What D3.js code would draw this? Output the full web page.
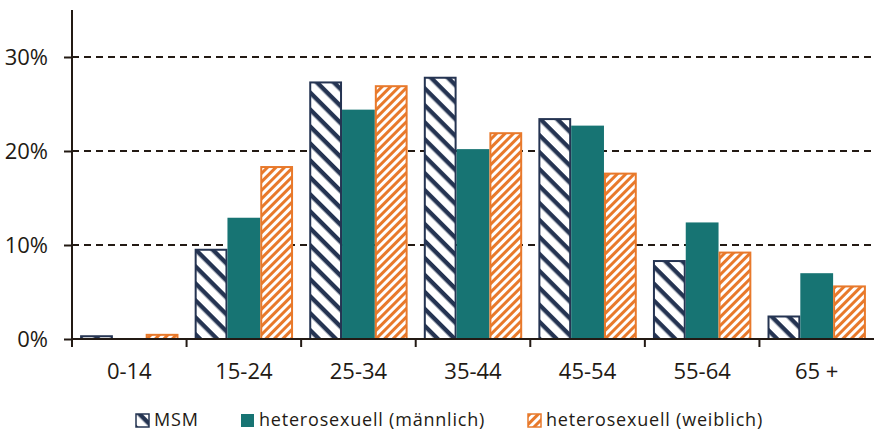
<!DOCTYPE html>
<html>
<head>
<meta charset="utf-8">
<script src="https://cdn.jsdelivr.net/npm/d3@7"></script>
<style>
  html, body { margin: 0; padding: 0; background: #fff; }
  svg { display: block; }
  text { font-family: "Open Sans", sans-serif; fill: #231a14; }
</style>
</head>
<body>
<svg id="chart" width="874" height="433"></svg>
<script>
// Age groups and shares (%) per transmission group
const categories = ["0-14", "15-24", "25-34", "35-44", "45-54", "55-64", "65 +"];
const seriesNames = ["MSM", "heterosexuell (männlich)", "heterosexuell (weiblich)"];
const msm = [0.4, 9.6, 27.4, 27.9, 23.5, 8.4, 2.5];
const heteroMale = [0.0, 12.9, 24.4, 20.2, 22.7, 12.4, 7.0];
const heteroFemale = [0.55, 18.4, 27.0, 22.0, 17.7, 9.3, 5.7];
const yTicks = [0, 10, 20, 30];

const navy = "#253452";
const teal = "#177473";
const orange = "#e8792b";
const ink = "#231a14";

const svg = d3.select("#chart");
const left = 72, right = 874;

const x = d3.scaleBand().domain(categories).range([left, right]);
const y = d3.scaleLinear().domain([0, 35]).range([339, 10]);
const inner = d3.scaleBand().domain(seriesNames).range([0, x.bandwidth()]).paddingOuter(0.5 * 38 / 77);

// Hatch patterns
const defs = svg.append("defs");
const pMsm = defs.append("pattern").attr("id", "pat-msm").attr("patternUnits", "userSpaceOnUse")
  .attr("width", 12).attr("height", 12).attr("patternTransform", "rotate(45)");
pMsm.append("rect").attr("width", 12).attr("height", 12).attr("fill", "#fff");
pMsm.append("rect").attr("width", 12).attr("height", 4.4).attr("fill", navy);

const pFem = defs.append("pattern").attr("id", "pat-fem").attr("patternUnits", "userSpaceOnUse")
  .attr("width", 6).attr("height", 6).attr("patternTransform", "rotate(-45)");
pFem.append("rect").attr("width", 6).attr("height", 6).attr("fill", "#fff");
pFem.append("rect").attr("width", 6).attr("height", 3).attr("fill", orange);

// Dashed gridlines
svg.append("g").selectAll("line").data(yTicks.filter(d => d > 0)).join("line")
  .attr("x1", left).attr("x2", right)
  .attr("y1", d => y(d)).attr("y2", d => y(d))
  .attr("stroke", ink).attr("stroke-width", 2).attr("stroke-dasharray", "7,5");

// Bars
const series = [
  { name: seriesNames[0], values: msm, fill: "url(#pat-msm)", stroke: navy, sw: 2 },
  { name: seriesNames[1], values: heteroMale, fill: teal, stroke: "none", sw: 0 },
  { name: seriesNames[2], values: heteroFemale, fill: "url(#pat-fem)", stroke: orange, sw: 2 }
];
series.forEach(s => {
  svg.append("g").selectAll("rect")
    .data(categories.map((c, i) => ({ c, v: s.values[i] })).filter(d => d.v > 0))
    .join("rect")
    .attr("x", d => x(d.c) + inner(s.name) + s.sw / 2)
    .attr("width", inner.bandwidth() - s.sw)
    .attr("y", d => y(d.v) + s.sw / 2)
    .attr("height", d => Math.max(0, y(0) - y(d.v) - s.sw / 2))
    .attr("fill", s.fill)
    .attr("stroke", s.stroke)
    .attr("stroke-width", s.sw);
});

// Y axis
const yAxis = d3.axisLeft(y).tickValues(yTicks).tickFormat(d => d + "%").tickSize(8).tickPadding(16);
const gy = svg.append("g").attr("transform", `translate(${left},0)`).call(yAxis);
gy.select(".domain").attr("stroke", ink).attr("stroke-width", 2).attr("d", `M0,${y(35)}V${y(0)}`);
gy.selectAll(".tick line").attr("stroke", ink).attr("stroke-width", 2);
gy.selectAll(".tick text").attr("font-size", 22).attr("dy", "0.36em")
  .style("font-family", "'Open Sans', sans-serif").attr("fill", ink);

// X axis
const xAxis = d3.axisBottom(x).tickSize(0);
const gx = svg.append("g").attr("transform", `translate(0,${y(0)})`).call(xAxis);
gx.select(".domain").attr("stroke", ink).attr("stroke-width", 2).attr("d", `M${left},0H${right}`);
gx.selectAll(".tick text").attr("font-size", 22).attr("y", 32).attr("dy", "0.36em")
  .style("font-family", "'Open Sans', sans-serif").attr("fill", ink);
svg.append("g").selectAll("line").data(categories).join("line")
  .attr("x1", d => x(d)).attr("x2", d => x(d))
  .attr("y1", y(0)).attr("y2", y(0) + 8)
  .attr("stroke", ink).attr("stroke-width", 2);

// Legend
const legendItems = [
  { name: seriesNames[0], x: 136, fill: "url(#pat-msm)", stroke: navy },
  { name: seriesNames[1], x: 241, fill: teal, stroke: "none" },
  { name: seriesNames[2], x: 528, fill: "url(#pat-fem)", stroke: orange }
];
const lg = svg.append("g");
legendItems.forEach(it => {
  lg.append("rect").attr("x", it.x).attr("y", 414).attr("width", 13).attr("height", 13)
    .attr("fill", it.fill).attr("stroke", it.stroke).attr("stroke-width", 1.5);
  lg.append("text").attr("x", it.x + 18).attr("y", 420).attr("dy", "0.36em")
    .attr("font-size", 18).attr("letter-spacing", 0.8).text(it.name);
});
</script>
</body>
</html>
